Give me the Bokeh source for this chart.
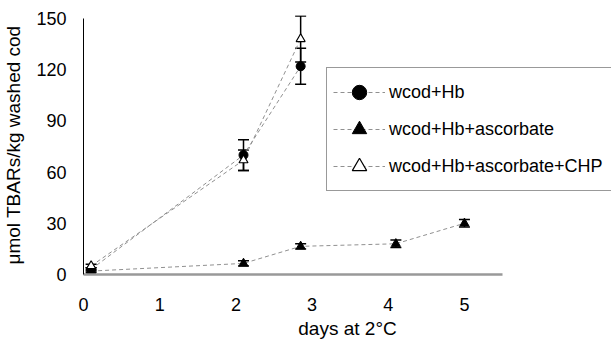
from bokeh.plotting import figure
from bokeh.models import ColumnDataSource, Whisker, TeeHead, Legend, LegendItem, Range1d, FixedTicker
from bokeh.embed import file_html
from bokeh.resources import INLINE

# data
hb_x = [0.1, 2.1, 2.85]
hb_y = [3, 70, 122]
hb_err = [1, 9, 10.5]

asc_x = [0.1, 2.1, 2.85, 4.1, 5.0]
asc_y = [2, 6.5, 16.5, 18, 30]
asc_err = [0.8, 1.5, 1.5, 2.2, 2.2]

chp_x = [0.1, 2.1, 2.85]
chp_y = [5, 67, 138]
chp_err = [1, 6, 13.5]

labels = ["wcod+Hb", "wcod+Hb+ascorbate", "wcod+Hb+ascorbate+CHP"]
x_ticks = [0, 1, 2, 3, 4, 5]
y_ticks = [0, 30, 60, 90, 120, 150]

FONT = "Liberation Sans"

p = figure(width=611, height=341, output_backend="svg", toolbar_location=None,
           x_range=Range1d(0, 6.93), y_range=Range1d(0, 151.75),
           min_border_left=80, min_border_right=0, min_border_top=15, min_border_bottom=66)
p.outline_line_color = None
p.grid.visible = False
p.background_fill_color = "white"

def src(x, y, e):
    return ColumnDataSource(dict(x=x, y=y, upper=[a + b for a, b in zip(y, e)],
                                 lower=[a - b for a, b in zip(y, e)]))

s_hb = src(hb_x, hb_y, hb_err)
s_asc = src(asc_x, asc_y, asc_err)
s_chp = src(chp_x, chp_y, chp_err)

lines = []
for s in (s_hb, s_asc, s_chp):
    lines.append(p.line("x", "y", source=s, line_color="#909090", line_width=1, line_dash="4 3"))

for s in (s_hb, s_asc, s_chp):
    w = Whisker(base="x", upper="upper", lower="lower", source=s, line_color="black", line_width=1.5,
                upper_head=TeeHead(size=11, line_color="black", line_width=1.5),
                lower_head=TeeHead(size=11, line_color="black", line_width=1.5))
    p.add_layout(w)

m_hb = p.scatter("x", "y", source=s_hb, marker="circle", size=9, fill_color="black", line_color="black")
m_asc = p.scatter("x", "y", source=s_asc, marker="triangle", size=9, fill_color="black", line_color="black")
m_chp = p.scatter("x", "y", source=s_chp, marker="triangle", size=9, fill_color="white", line_color="black", line_width=1.2)

legend = Legend(items=[LegendItem(label=labels[0], renderers=[lines[0], m_hb]),
                       LegendItem(label=labels[1], renderers=[lines[1], m_asc]),
                       LegendItem(label=labels[2], renderers=[lines[2], m_chp])],
                location=(243, 83), orientation="vertical",
                padding=6, margin=0, spacing=1,
                glyph_width=52, glyph_height=36, label_height=36, label_width=235,
                label_standoff=4, label_text_font=FONT, label_text_font_size="18px",
                label_text_color="black",
                border_line_color="#333333", border_line_width=1,
                background_fill_color="white", background_fill_alpha=1)
p.add_layout(legend, "center")

p.xaxis.ticker = FixedTicker(ticks=x_ticks)
p.yaxis.ticker = FixedTicker(ticks=y_ticks)
p.xaxis.bounds = (0, 5.5)
p.xaxis.axis_line_color = "#999999"
p.xaxis.axis_line_width = 2.5
p.yaxis.axis_line_color = "black"
p.yaxis.axis_line_width = 1
p.yaxis.bounds = (0, 150)
for ax in (p.xaxis, p.yaxis):
    ax.major_tick_line_color = None
    ax.minor_tick_line_color = None
    ax.major_label_text_font = FONT
    ax.major_label_text_font_size = "18px"
    ax.major_label_text_color = "black"
    ax.axis_label_text_font = FONT
    ax.axis_label_text_font_size = "19px"
    ax.axis_label_text_font_style = "normal"
    ax.axis_label_text_color = "black"

p.xaxis.axis_label = "days at 2°C"
p.yaxis.axis_label = "μmol TBARs/kg washed cod"
p.xaxis.major_label_standoff = 17
p.xaxis.axis_label_standoff = 4
p.yaxis.major_label_standoff = 11
p.yaxis.axis_label_standoff = 9

open("out.html", "w").write(file_html(p, INLINE))
